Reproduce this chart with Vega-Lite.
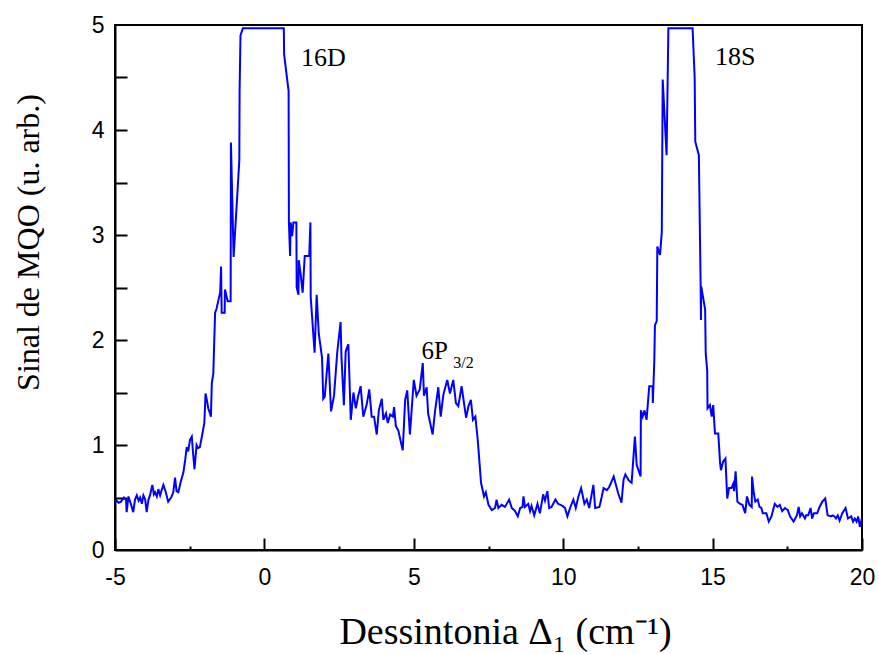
{
  "$schema": "https://vega.github.io/schema/vega-lite/v6.json",
  "width": 747,
  "height": 525,
  "autosize": {"type": "none"},
  "padding": {"left": 115, "top": 25, "right": 17, "bottom": 104},
  "background": "white",
  "datasets": {
    "signal": [
      {"x":-5.00,"y":0.45},{"x":-4.95,"y":0.47},{"x":-4.88,"y":0.45},{"x":-4.80,"y":0.46},{"x":-4.70,"y":0.50},{"x":-4.63,"y":0.48},{"x":-4.61,"y":0.36},{"x":-4.55,"y":0.51},{"x":-4.47,"y":0.44},{"x":-4.39,"y":0.36},{"x":-4.33,"y":0.48},{"x":-4.27,"y":0.52},{"x":-4.21,"y":0.47},{"x":-4.16,"y":0.50},{"x":-4.10,"y":0.44},{"x":-4.05,"y":0.52},{"x":-3.99,"y":0.48},{"x":-3.94,"y":0.36},{"x":-3.88,"y":0.48},{"x":-3.83,"y":0.52},{"x":-3.75,"y":0.62},{"x":-3.70,"y":0.53},{"x":-3.66,"y":0.55},{"x":-3.60,"y":0.51},{"x":-3.55,"y":0.58},{"x":-3.49,"y":0.52},{"x":-3.44,"y":0.57},{"x":-3.38,"y":0.62},{"x":-3.30,"y":0.55},{"x":-3.22,"y":0.46},{"x":-3.12,"y":0.50},{"x":-3.05,"y":0.55},{"x":-2.99,"y":0.69},{"x":-2.94,"y":0.56},{"x":-2.88,"y":0.55},{"x":-2.80,"y":0.65},{"x":-2.71,"y":0.74},{"x":-2.65,"y":0.86},{"x":-2.60,"y":0.98},{"x":-2.55,"y":0.94},{"x":-2.49,"y":1.05},{"x":-2.43,"y":1.08},{"x":-2.38,"y":0.90},{"x":-2.34,"y":0.77},{"x":-2.27,"y":1.00},{"x":-2.22,"y":0.97},{"x":-2.16,"y":0.98},{"x":-2.08,"y":1.10},{"x":-2.01,"y":1.21},{"x":-1.97,"y":1.49},{"x":-1.92,"y":1.42},{"x":-1.88,"y":1.35},{"x":-1.82,"y":1.30},{"x":-1.79,"y":1.27},{"x":-1.76,"y":1.59},{"x":-1.71,"y":1.68},{"x":-1.65,"y":2.26},{"x":-1.60,"y":2.30},{"x":-1.54,"y":2.38},{"x":-1.48,"y":2.45},{"x":-1.45,"y":2.70},{"x":-1.43,"y":2.26},{"x":-1.33,"y":2.26},{"x":-1.32,"y":2.48},{"x":-1.27,"y":2.42},{"x":-1.23,"y":2.37},{"x":-1.13,"y":2.37},{"x":-1.12,"y":3.88},{"x":-1.03,"y":2.79},{"x":-0.84,"y":3.71},{"x":-0.83,"y":4.37},{"x":-0.80,"y":4.90},{"x":-0.72,"y":4.97},{"x":0.65,"y":4.97},
      {"x":0.66,"y":4.72},{"x":0.81,"y":4.37},{"x":0.82,"y":3.12},{"x":0.86,"y":2.80},{"x":0.88,"y":3.12},{"x":0.93,"y":2.99},{"x":0.97,"y":3.12},{"x":1.07,"y":3.12},{"x":1.08,"y":2.50},{"x":1.14,"y":2.43},{"x":1.15,"y":2.76},{"x":1.22,"y":2.61},{"x":1.28,"y":2.45},{"x":1.35,"y":2.80},{"x":1.50,"y":2.80},{"x":1.54,"y":3.12},{"x":1.55,"y":2.41},{"x":1.68,"y":1.88},{"x":1.75,"y":2.43},{"x":1.82,"y":2.06},{"x":1.93,"y":1.83},
      {"x":1.97,"y":1.44},{"x":2.02,"y":1.46},{"x":2.14,"y":1.87},{"x":2.23,"y":1.32},{"x":2.33,"y":1.47},{"x":2.44,"y":1.89},{"x":2.55,"y":2.17},{"x":2.58,"y":1.83},{"x":2.66,"y":1.38},{"x":2.72,"y":1.89},{"x":2.81,"y":1.96},{"x":2.89,"y":1.24},{"x":2.98,"y":1.50},{"x":3.06,"y":1.35},{"x":3.14,"y":1.47},{"x":3.22,"y":1.56},{"x":3.31,"y":1.27},{"x":3.42,"y":1.38},{"x":3.51,"y":1.53},{"x":3.59,"y":1.27},{"x":3.67,"y":1.27},{"x":3.76,"y":1.10},{"x":3.83,"y":1.33},{"x":3.93,"y":1.44},{"x":3.98,"y":1.24},{"x":4.07,"y":1.30},{"x":4.13,"y":1.21},{"x":4.21,"y":1.29},{"x":4.30,"y":1.27},{"x":4.34,"y":1.36},{"x":4.40,"y":1.18},{"x":4.48,"y":1.14},{"x":4.63,"y":0.95},{"x":4.71,"y":1.43},{"x":4.78,"y":1.52},{"x":4.87,"y":1.10},{"x":5.00,"y":1.62},{"x":5.09,"y":1.47},{"x":5.20,"y":1.53},{"x":5.30,"y":1.78},{"x":5.34,"y":1.47},{"x":5.43,"y":1.55},{"x":5.48,"y":1.30},{"x":5.63,"y":1.10},{"x":5.71,"y":1.32},{"x":5.82,"y":1.55},{"x":5.90,"y":1.27},{"x":5.99,"y":1.48},{"x":6.12,"y":1.62},{"x":6.21,"y":1.49},{"x":6.32,"y":1.62},{"x":6.41,"y":1.40},{"x":6.49,"y":1.37},{"x":6.60,"y":1.56},{"x":6.68,"y":1.40},{"x":6.75,"y":1.26},{"x":6.83,"y":1.37},{"x":6.91,"y":1.43},{"x":6.98,"y":1.24},{"x":7.06,"y":1.27},{"x":7.14,"y":1.05},{"x":7.21,"y":0.79},
      {"x":7.25,"y":0.64},{"x":7.35,"y":0.51},{"x":7.41,"y":0.55},{"x":7.50,"y":0.43},{"x":7.61,"y":0.38},{"x":7.72,"y":0.40},{"x":7.77,"y":0.48},{"x":7.83,"y":0.40},{"x":7.94,"y":0.43},{"x":8.05,"y":0.41},{"x":8.19,"y":0.48},{"x":8.28,"y":0.40},{"x":8.39,"y":0.37},{"x":8.48,"y":0.32},{"x":8.56,"y":0.40},{"x":8.64,"y":0.41},{"x":8.67,"y":0.51},{"x":8.72,"y":0.41},{"x":8.83,"y":0.44},{"x":8.89,"y":0.37},{"x":8.94,"y":0.42},{"x":9.03,"y":0.33},{"x":9.14,"y":0.44},{"x":9.22,"y":0.35},{"x":9.33,"y":0.53},{"x":9.39,"y":0.47},{"x":9.47,"y":0.56},{"x":9.53,"y":0.40},{"x":9.61,"y":0.41},{"x":9.74,"y":0.48},{"x":9.83,"y":0.44},{"x":9.98,"y":0.42},{"x":10.06,"y":0.40},{"x":10.14,"y":0.32},{"x":10.23,"y":0.40},{"x":10.34,"y":0.48},{"x":10.42,"y":0.40},{"x":10.51,"y":0.51},{"x":10.60,"y":0.59},{"x":10.71,"y":0.44},{"x":10.79,"y":0.48},{"x":10.87,"y":0.40},{"x":11.01,"y":0.62},{"x":11.07,"y":0.40},{"x":11.21,"y":0.41},{"x":11.27,"y":0.48},{"x":11.35,"y":0.59},{"x":11.46,"y":0.57},{"x":11.54,"y":0.60},{"x":11.69,"y":0.70},{"x":11.84,"y":0.54},{"x":11.95,"y":0.45},{"x":12.02,"y":0.67},{"x":12.08,"y":0.72},
      {"x":12.20,"y":0.66},{"x":12.29,"y":0.64},{"x":12.40,"y":1.08},{"x":12.46,"y":0.81},{"x":12.59,"y":0.70},{"x":12.60,"y":1.33},{"x":12.66,"y":1.27},{"x":12.72,"y":1.33},{"x":12.79,"y":1.24},{"x":12.88,"y":1.56},{"x":12.99,"y":1.56},{"x":13.00,"y":1.40},{"x":13.05,"y":1.81},{"x":13.07,"y":2.14},{"x":13.13,"y":2.18},{"x":13.15,"y":2.89},{"x":13.24,"y":2.81},{"x":13.30,"y":3.03},{"x":13.33,"y":4.48},{"x":13.46,"y":3.76},{"x":13.52,"y":4.97},{"x":14.33,"y":4.97},{"x":14.40,"y":4.50},{"x":14.42,"y":3.89},{"x":14.54,"y":3.76},{"x":14.60,"y":2.51},{"x":14.61,"y":2.19},{"x":14.62,"y":2.51},{"x":14.75,"y":2.29},{"x":14.77,"y":1.87},{"x":14.82,"y":1.71},{"x":14.83,"y":1.35},{"x":14.91,"y":1.38},{"x":14.97,"y":1.27},{"x":15.02,"y":1.38},{"x":15.08,"y":1.11},{"x":15.19,"y":1.11},{"x":15.25,"y":0.83},
      {"x":15.28,"y":0.76},{"x":15.35,"y":0.84},{"x":15.43,"y":0.87},{"x":15.49,"y":0.49},{"x":15.55,"y":0.59},{"x":15.63,"y":0.59},{"x":15.69,"y":0.63},{"x":15.72,"y":0.56},{"x":15.77,"y":0.75},{"x":15.83,"y":0.46},{"x":15.92,"y":0.44},{"x":16.00,"y":0.43},{"x":16.09,"y":0.35},{"x":16.15,"y":0.51},{"x":16.23,"y":0.43},{"x":16.31,"y":0.41},{"x":16.32,"y":0.70},{"x":16.38,"y":0.54},{"x":16.43,"y":0.46},{"x":16.51,"y":0.48},{"x":16.57,"y":0.41},{"x":16.63,"y":0.40},{"x":16.68,"y":0.35},{"x":16.80,"y":0.35},{"x":16.88,"y":0.27},{"x":16.97,"y":0.32},{"x":17.08,"y":0.44},{"x":17.17,"y":0.41},{"x":17.25,"y":0.43},{"x":17.33,"y":0.37},{"x":17.42,"y":0.40},{"x":17.52,"y":0.38},{"x":17.59,"y":0.32},{"x":17.71,"y":0.27},{"x":17.82,"y":0.33},{"x":17.88,"y":0.41},{"x":17.93,"y":0.32},{"x":17.99,"y":0.35},{"x":18.09,"y":0.30},{"x":18.13,"y":0.33},{"x":18.20,"y":0.33},{"x":18.28,"y":0.40},{"x":18.33,"y":0.30},{"x":18.39,"y":0.35},{"x":18.50,"y":0.35},{"x":18.58,"y":0.41},{"x":18.67,"y":0.46},{"x":18.77,"y":0.49},{"x":18.85,"y":0.33},{"x":18.96,"y":0.32},{"x":19.02,"y":0.33},{"x":19.08,"y":0.32},{"x":19.13,"y":0.30},{"x":19.19,"y":0.33},{"x":19.25,"y":0.28},{"x":19.34,"y":0.35},{"x":19.45,"y":0.40},{"x":19.53,"y":0.30},{"x":19.64,"y":0.32},{"x":19.70,"y":0.27},{"x":19.76,"y":0.30},{"x":19.82,"y":0.27},{"x":19.87,"y":0.32},{"x":19.93,"y":0.22},{"x":20.00,"y":0.31}
    ],
    "peaks": [
      {"x":1.225,"y":4.61,"label":"16D"},
      {"x":15.08,"y":4.62,"label":"18S"}
    ],
    "state": [
      {"x":5.26,"y":1.82,"label":"6P"}
    ],
    "substate": [
      {"x":6.32,"y":1.73,"label":"3/2"}
    ]
  },
  "resolve": {"axis": {"x": "independent", "y": "independent"}},
  "layer": [
    {
      "data": {"name": "signal"},
      "mark": {"type": "line", "color": "#0000ff", "strokeWidth": 2, "clip": true},
      "encoding": {
        "x": {
          "field": "x",
          "type": "quantitative",
          "scale": {"domain": [-5, 20], "nice": false, "zero": false},
          "axis": {
            "orient": "bottom",
            "title": "Dessintonia Δ₁ (cm⁻¹)",
            "values": [-5, 0, 5, 10, 15, 20],
            "labelExpr": "'' + datum.value",
            "tickSize": -12,
            "labelPadding": 28,
            "labelFlush": false,
            "labelOverlap": false,
            "titleFontSize": 38,
            "titleX": 390,
            "titleY": 93,
            "titleBaseline": "alphabetic",
            "titleAlign": "center"
          }
        },
        "y": {
          "field": "y",
          "type": "quantitative",
          "scale": {"domain": [0, 5], "nice": false},
          "axis": {
            "orient": "left",
            "title": "Sinal de MQO (u. arb.)",
            "values": [0, 1, 2, 3, 4, 5],
            "labelExpr": "'' + datum.value",
            "tickSize": 0,
            "labelPadding": 11,
            "labelAlign": "right",
            "labelFlush": false,
            "labelOverlap": false,
            "titleFontSize": 32,
            "titleX": -77,
            "titleY": 217,
            "titleAngle": 270,
            "titleBaseline": "alphabetic",
            "titleAlign": "center"
          }
        }
      }
    },
    {
      "data": {"name": "peaks"},
      "mark": {"type": "text", "align": "left", "baseline": "alphabetic", "font": "Liberation Serif", "fontSize": 26, "color": "black"},
      "encoding": {
        "x": {
          "field": "x",
          "type": "quantitative",
          "axis": {
            "orient": "bottom",
            "values": [-2.5, 2.5, 7.5, 12.5, 17.5],
            "tickSize": -4,
            "labels": false,
            "domain": false,
            "title": null
          }
        },
        "y": {
          "field": "y",
          "type": "quantitative",
          "axis": {
            "orient": "left",
            "values": [0.5, 1, 1.5, 2, 2.5, 3, 3.5, 4, 4.5],
            "tickSize": -12,
            "labels": false,
            "domain": false,
            "title": null
          }
        },
        "text": {"field": "label"}
      }
    },
    {
      "data": {"name": "state"},
      "mark": {"type": "text", "align": "left", "baseline": "alphabetic", "font": "Liberation Serif", "fontSize": 25, "color": "black"},
      "encoding": {
        "x": {"field": "x", "type": "quantitative", "axis": null},
        "y": {"field": "y", "type": "quantitative", "axis": null},
        "text": {"field": "label"}
      }
    },
    {
      "data": {"name": "substate"},
      "mark": {"type": "text", "align": "left", "baseline": "alphabetic", "font": "Liberation Serif", "fontSize": 16, "color": "black"},
      "encoding": {
        "x": {"field": "x", "type": "quantitative", "axis": null},
        "y": {"field": "y", "type": "quantitative", "axis": null},
        "text": {"field": "label"}
      }
    }
  ],
  "config": {
    "view": {"stroke": "black", "strokeWidth": 2},
    "axis": {
      "grid": false,
      "domainColor": "black",
      "domainWidth": 2,
      "tickColor": "black",
      "tickWidth": 2,
      "labelColor": "black",
      "labelFont": "Liberation Sans",
      "labelFontSize": 23,
      "titleColor": "black",
      "titleFont": "Liberation Serif",
      "titleFontWeight": "normal"
    }
  }
}
